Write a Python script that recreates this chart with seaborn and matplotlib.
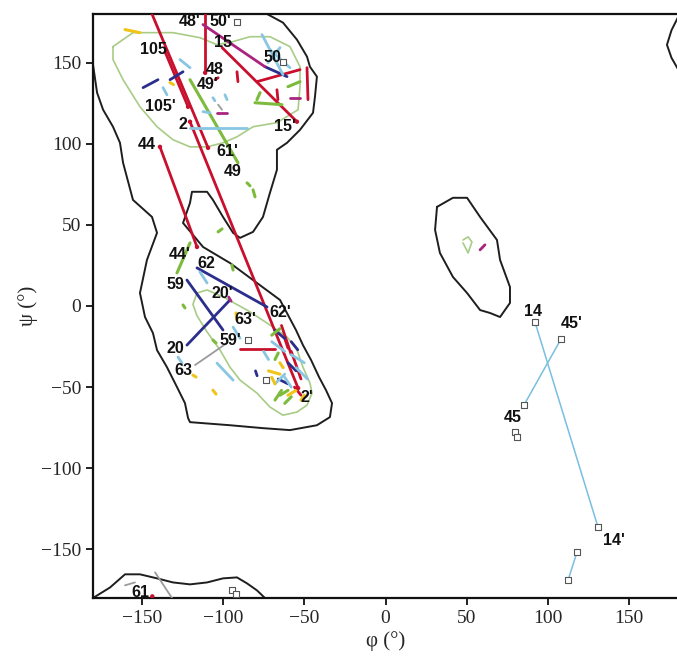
import pandas as pd
import matplotlib
matplotlib.use("Agg")
import matplotlib.pyplot as plt
import seaborn as sns

# contour outlines (phi, psi)
outer_region = [(-180, 148.8), (-177.5, 131.5), (-173.8, 121.0), (-167.7, 110.5), (-163.4, 100.6),
                (-161.5, 88.3), (-155.4, 65.4), (-143.7, 54.9), (-140.6, 45.1), (-146.8, 28.4),
                (-151.1, 8.0), (-148.0, -6.8), (-143.1, -16.7), (-140.6, -27.2), (-134.5, -37.7),
                (-128.3, -50.0), (-123.4, -59.9), (-121.5, -69.1), (-120.3, -71.6), (-95.7, -73.5),
                (-75.4, -75.3), (-58.8, -76.5), (-42.2, -73.5), (-34.2, -68.5), (-32.9, -59.9),
                (-36.6, -51.9), (-40.9, -43.8), (-45.8, -33.3), (-50.8, -24.1), (-55.1, -14.8),
                (-64.9, 3.7), (-79.1, 14.2), (-95.7, 26.5), (-112.3, 36.4), (-124.6, 51.2),
                (-120.3, 63.6), (-119.1, 70.4), (-109.8, 70.4), (-106.2, 65.4), (-100.0, 54.9),
                (-93.8, 45.1), (-89.5, 42.0), (-81.5, 45.7), (-75.4, 54.9), (-71.1, 69.8),
                (-66.8, 84.0), (-66.8, 96.3), (-60.6, 100.6), (-52.6, 108.6), (-44.6, 119.1),
                (-43.4, 129.0), (-42.2, 141.4), (-46.5, 147.5), (-48.3, 153.7), (-54.5, 164.2),
                (-63.1, 174.7), (-72.9, 180)]
bottom_region = [(-180, -180), (-169.5, -173.5), (-160.3, -165.4), (-151.1, -165.4), (-140.6, -167.9),
                 (-130.8, -170.4), (-120.3, -171.6), (-109.8, -170.4), (-100.0, -167.9), (-91.4, -167.3),
                 (-85.2, -171.0), (-79.1, -175.3), (-74.2, -180)]
left_alpha_region = [(31.7, 61.1), (41.5, 66.7), (50.2, 66.7), (58.2, 54.9), (68.6, 40.7), (70.5, 28.4),
                     (76.6, 11.7), (76.6, 1.9), (70.5, -6.8), (64.3, -4.3), (58.2, -2.5), (50.2, 8.0),
                     (41.5, 17.9), (33.5, 32.7), (30.5, 46.9), (31.7, 61.1)]
corner_region = [(180, 178), (176, 170), (173.2, 161), (176, 153), (180, 146)]
core_beta = [(-167.7, 159.9), (-155.4, 168.5), (-130.8, 168.5), (-114.2, 165.4), (-103.7, 161.1),
             (-93.8, 163.0), (-83.4, 166.0), (-71.1, 166.0), (-58.8, 159.9), (-52.6, 147.5),
             (-52.6, 135.2), (-53.8, 121.0), (-66.8, 113.0), (-81.5, 110.5), (-91.4, 104.3),
             (-100.0, 100.6), (-109.8, 98.1), (-120.3, 98.1), (-130.8, 102.5), (-140.6, 110.5),
             (-151.1, 122.8), (-161.5, 139.5), (-167.7, 151.9), (-167.7, 159.9)]
core_alpha = [(-116.0, 8.0), (-109.8, 9.9), (-100.0, 5.6), (-85.2, -2.5), (-72.9, -10.5), (-60.6, -19.1),
              (-54.5, -27.0), (-50.8, -37.7), (-46.5, -47.5), (-45.2, -53.7), (-48.3, -61.1),
              (-54.5, -65.4), (-63.1, -67.3), (-71.1, -62.3), (-79.1, -53.7), (-89.5, -45.7),
              (-95.7, -37.7), (-101.8, -27.2), (-109.8, -16.0), (-116.0, -6.0), (-118.5, 1.0),
              (-116.0, 8.0)]
core_left = [(47.7, 40.7), (50.8, 42.6), (53.2, 39.5), (50.8, 32.7), (47.7, 38.9)]

# residue transitions, one list per colour: (phi1, psi1, phi2, psi2)
red_segs = [(-143.7, 180, -109.2, 97.5), (-135.7, 156.8, -121.5, 122.8), (-120.3, 113.6, -53.8, -50.6),
            (-138.8, 98.1, -116.0, 36.4), (-111.0, 180, -111.0, 143.8), (-100.6, 159.3, -54.5, 113.6),
            (-79.1, 138.3, -52.6, 145.7), (-48.3, 146.9, -47.7, 127.2), (-91.4, 144.4, -90.8, 138.3),
            (-66.8, 133.3, -66.2, 127.2), (-104.9, 139.5, -103.0, 140.7), (-89.5, -26.5, -68.0, -26.5),
            (-64.0, -12.0, -58.0, -30.0), (-58.0, -28.0, -52.0, -45.0), (-56.0, -50.0, -52.0, -55.0),
            (-62.0, -20.0, -60.0, -26.0)]
navy_segs = [(-116.0, 23.5, -72.9, -0.6), (-122.2, 16.0, -100.0, -14.8), (-122.2, -24.1, -95.7, 3.7),
             (-149.2, 134.6, -140.0, 139.5), (-132.6, 139.5, -124.6, 144.4), (-74.2, 147.5, -60.6, 141.4),
             (-68.0, -15.0, -62.0, -20.0), (-60.0, -35.0, -55.0, -40.0), (-66.0, -45.0, -60.0, -48.0),
             (-80.0, -40.0, -79.0, -43.0), (-58.0, -22.0, -54.0, -27.0)]
magenta_segs = [(-112.3, 173.5, -74.2, 147.5), (-58.8, 128.4, -52.6, 128.4), (-103.7, 119.1, -97.5, 119.1),
                (58.2, 34.6, 61.2, 37.7), (-96.5, 5.5, -95.0, 3.0)]
green_segs = [(-120.3, 139.5, -90.8, 88.3), (-120.3, 38.9, -128.3, 20.4), (-80.3, 125.3, -63.7, 124.1),
              (-79.1, 127.2, -77.2, 131.5), (-60.0, 135.2, -52.6, 138.3), (-85.2, 75.9, -83.4, 74.1),
              (-81.5, 71.6, -80.3, 67.3), (-103.0, 45.7, -100.6, 47.5), (-94.5, 25.3, -93.8, 22.2),
              (-124.6, 0.6, -123.4, -1.2), (-106.2, -21.0, -104.3, -22.8), (-70.0, -18.0, -65.0, -14.0),
              (-65.0, -55.0, -60.0, -52.0), (-68.0, -58.0, -64.0, -52.0), (-62.0, -60.0, -58.0, -56.0),
              (-68.0, -33.0, -66.0, -29.0)]
lightblue_segs = [(-120.3, 109.9, -85.2, 109.9), (-126.5, 151.9, -120.3, 146.9), (-136.9, 134.6, -134.5, 130.2),
                  (-112.3, 119.8, -108.0, 119.1), (-106.2, 128.4, -105.0, 126.5), (-98.8, 130.2, -97.5, 127.2),
                  (-76.0, 167.3, -63.1, 142.6), (-71.1, 158.0, -58.8, 146.9), (-64.9, 159.3, -72.3, 150.0),
                  (-103.7, -35.2, -93.8, -45.7), (-127.7, -31.5, -125.2, -35.2), (-114.2, 21.0, -109.8, 14.2),
                  (-93.8, -13.0, -89.5, -19.8), (-70.0, -22.0, -62.0, -28.0), (-58.0, -30.0, -50.0, -35.0),
                  (-68.0, -48.0, -62.0, -42.0), (-55.0, -38.0, -48.0, -45.0), (-75.0, -28.0, -72.0, -33.0),
                  (-62.0, -44.0, -58.0, -50.0)]
right_segs = [(92.0, -9.9, 130.8, -136.4), (85.2, -61.1, 108.0, -20.4), (117.8, -151.9, 112.3, -169.1)]
yellow_segs = [(-160.3, 170.4, -151.1, 168.5), (-132.6, 137.7, -130.5, 136.5), (-106.2, -51.9, -104.3, -54.3),
               (-118.5, -42.6, -116.6, -43.8), (-92.0, -4.3, -91.4, -8.6), (-72.0, -40.0, -65.0, -42.0),
               (-60.0, -55.0, -55.0, -52.0), (-65.0, -35.0, -63.0, -38.0), (-52.0, -58.0, -50.0, -55.0),
               (-70.0, -44.0, -68.0, -48.0)]
grey_segs = [(-117.2, -36.4, -97.5, -22.8), (-103.0, 124.1, -100.6, 121.0), (-141.8, -164.2, -131.4, -180),
             (-160.3, -172.2, -154.2, -170.4)]

# open squares (glycines / unassigned)
square_phi = [-91.4, -63.1, -94.5, -92.0, 92.0, 130.8, 85.2, 108.0, 79.7, 80.9, 117.8, 112.3, -84.6, -73.5]
square_psi = [175.3, 150.6, -175.3, -177.8, -9.9, -136.4, -61.1, -20.4, -77.8, -80.9, -151.9, -169.1, -21.0, -45.7]

# end dots on the red segments
dot_phi = [-143.5, -109.2, -121.5, -120.3, -138.8, -116.0, -111.0, -54.5, -53.8]
dot_psi = [-179.0, 97.5, 122.8, 113.6, 98.1, 36.4, 143.8, 113.6, -50.6]

labels = ["48'", "50'", "105", "15", "50", "48", "49'", "105'", "2", "15'", "44", "61'", "49",
          "44'", "62", "59", "20'", "62'", "63'", "59'", "20", "63", "2'", "14", "45'", "45", "14'", "61"]
label_phi = [-120.3, -101.8, -143.1, -100.0, -69.8, -104.9, -109.2, -138.8, -124.6, -61.8, -146.8, -97.5,
             -93.8, -126.5, -110.5, -129.5, -100.6, -64.9, -86.5, -95.7, -129.5, -124.6, -48.3, 90.8,
             114.8, 78.5, 140.6, -151.1]
label_psi = [175.3, 175.3, 158.0, 162.3, 153.0, 145.7, 136.4, 122.8, 111.7, 110.5, 99.4, 95.1, 82.7,
             31.5, 25.9, 13.0, 8.0, -4.3, -8.6, -21.0, -25.9, -39.5, -56.2, -3.1, -10.5, -68.5,
             -144.4, -176.5]

colors = {"red": "#c8102e", "navy": "#2b2e8c", "magenta": "#a8247e", "green": "#7dbb3c",
          "lightblue": "#88c6e2", "right": "#79bfe0", "yellow": "#f0c419", "grey": "#9b9b9b"}
groups = {"red": red_segs, "navy": navy_segs, "magenta": magenta_segs, "green": green_segs,
          "lightblue": lightblue_segs, "right": right_segs, "yellow": yellow_segs, "grey": grey_segs}
widths = {"red": 2.0, "navy": 2.0, "magenta": 2.0, "green": 2.2, "lightblue": 2.0,
          "right": 1.1, "yellow": 2.2, "grey": 1.3}

rows = []
for name, segs in groups.items():
    for i, (p1, s1, p2, s2) in enumerate(segs):
        rows.append({"phi": p1, "psi": s1, "seg": f"{name}{i}", "group": name})
        rows.append({"phi": p2, "psi": s2, "seg": f"{name}{i}", "group": name})
df = pd.DataFrame(rows)

sns.set_style("ticks")
plt.rcParams["font.family"] = ["Liberation Serif", "DejaVu Serif"]
plt.rcParams["axes.unicode_minus"] = True

fig = plt.figure(figsize=(6.77, 6.62), dpi=100)
ax = fig.add_axes([93 / 677, 64 / 662, 585 / 677, 584 / 662])

for poly in [outer_region, bottom_region, left_alpha_region, corner_region]:
    ax.plot([p[0] for p in poly], [p[1] for p in poly], color="#1e1e1e", lw=1.4, zorder=1)
for poly in [core_beta, core_alpha, core_left]:
    ax.plot([p[0] for p in poly], [p[1] for p in poly], color="#a8cc86", lw=1.2, zorder=1)

for name in groups:
    sub = df[df["group"] == name]
    sns.lineplot(data=sub, x="phi", y="psi", units="seg", estimator=None, sort=False,
                 color=colors[name], lw=widths[name], ax=ax, legend=False, zorder=3)

sns.scatterplot(x=dot_phi, y=dot_psi, color=colors["red"], s=10, edgecolor="none", ax=ax, zorder=4)
ax.scatter(square_phi, square_psi, marker="s", s=14, facecolor="white", edgecolor="#555555",
           linewidth=0.8, zorder=5)

for t, x, y in zip(labels, label_phi, label_psi):
    ax.text(x, y, t, fontsize=11.5, fontweight="bold", family=["Liberation Sans", "DejaVu Sans"],
            ha="center", va="center", color="#111111", zorder=6)

ax.set_xlim(-180, 180)
ax.set_ylim(-180, 180)
ax.set_xticks([-150, -100, -50, 0, 50, 100, 150])
ax.set_yticks([-150, -100, -50, 0, 50, 100, 150])
ax.tick_params(direction="out", length=5, width=1.3, labelsize=14, color="#111111")
for sp in ax.spines.values():
    sp.set_linewidth(1.6)
    sp.set_color("#111111")
ax.set_xlabel("φ (°)", fontsize=15, labelpad=3)
ax.set_ylabel("ψ (°)", fontsize=15, labelpad=2)

fig.savefig("out.png", dpi=100)
